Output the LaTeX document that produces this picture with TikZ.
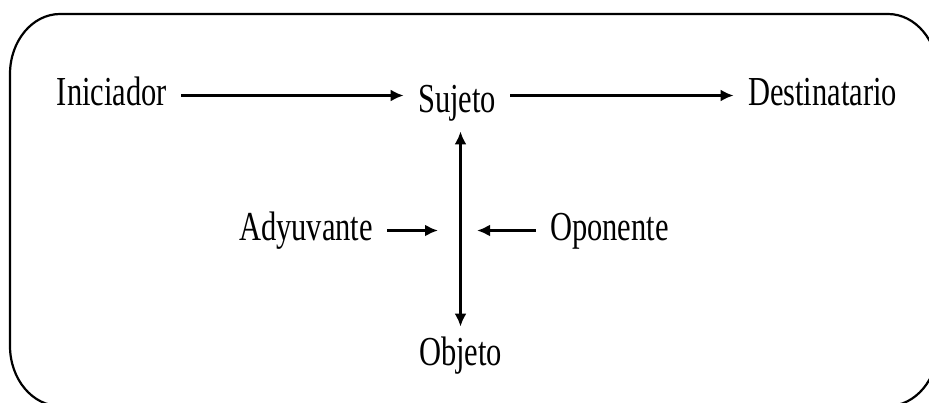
\documentclass[tikz,border=0pt]{standalone}
\usepackage{fontspec}
\setmainfont[FakeStretch=0.74]{Liberation Serif}
\usetikzlibrary{arrows.meta,calc}
\begin{document}
\begin{tikzpicture}[x=0.5pt,y=-0.5pt,
  lbl/.style={anchor=base, inner xsep=7pt, inner ysep=5pt, text height=14pt, text depth=4.5pt,
    font=\fontsize{20.6}{24}\selectfont},
  arr/.style={line width=1.3pt, -{Latex[length=6.5pt,width=6pt]}},
  darr/.style={line width=1.3pt, {Latex[length=6.5pt,width=6pt]}-{Latex[length=6.5pt,width=6pt]}},
  frame/.style={line width=1.1pt}]
\useasboundingbox (0,0) rectangle (929,402);
\begin{scope}
\clip (0,0) rectangle (929,402);
\draw[frame] (60,14) -- (888,14) .. controls (915.6,14) and (938,40.9) .. (938,74)
  -- (938,346) .. controls (938,379.1) and (915.6,406) .. (888,406)
  -- (60,406) .. controls (32.4,406) and (10,379.1) .. (10,346)
  -- (10,74) .. controls (10,40.9) and (32.4,14) .. (60,14) -- cycle;
\end{scope}
\node[lbl] (ini) at (112,105) {Iniciador};
\node[lbl] (suj) at (457,112) {Sujeto};
\node[lbl] (dest) at (822.5,105) {Destinatario};
\node[lbl] (ady) at (306,240) {Adyuvante};
\node[lbl] (opo) at (609.5,240) {Oponente};
\node[lbl] (obj) at (460.5,365) {Objeto};
\coordinate (axis) at (460,228);
\draw[arr] (ini.east) -- (ini.east -| suj.west);
\draw[arr] (dest.west -| suj.east) -- (dest.west);
\draw[darr] (obj.north |- suj.south) -- (obj.north);
\draw[arr, shorten >=11pt] (ady.east) -- (ady.east -| axis);
\draw[arr, shorten >=8.5pt] (opo.west) -- (opo.west -| axis);
\end{tikzpicture}
\end{document}
